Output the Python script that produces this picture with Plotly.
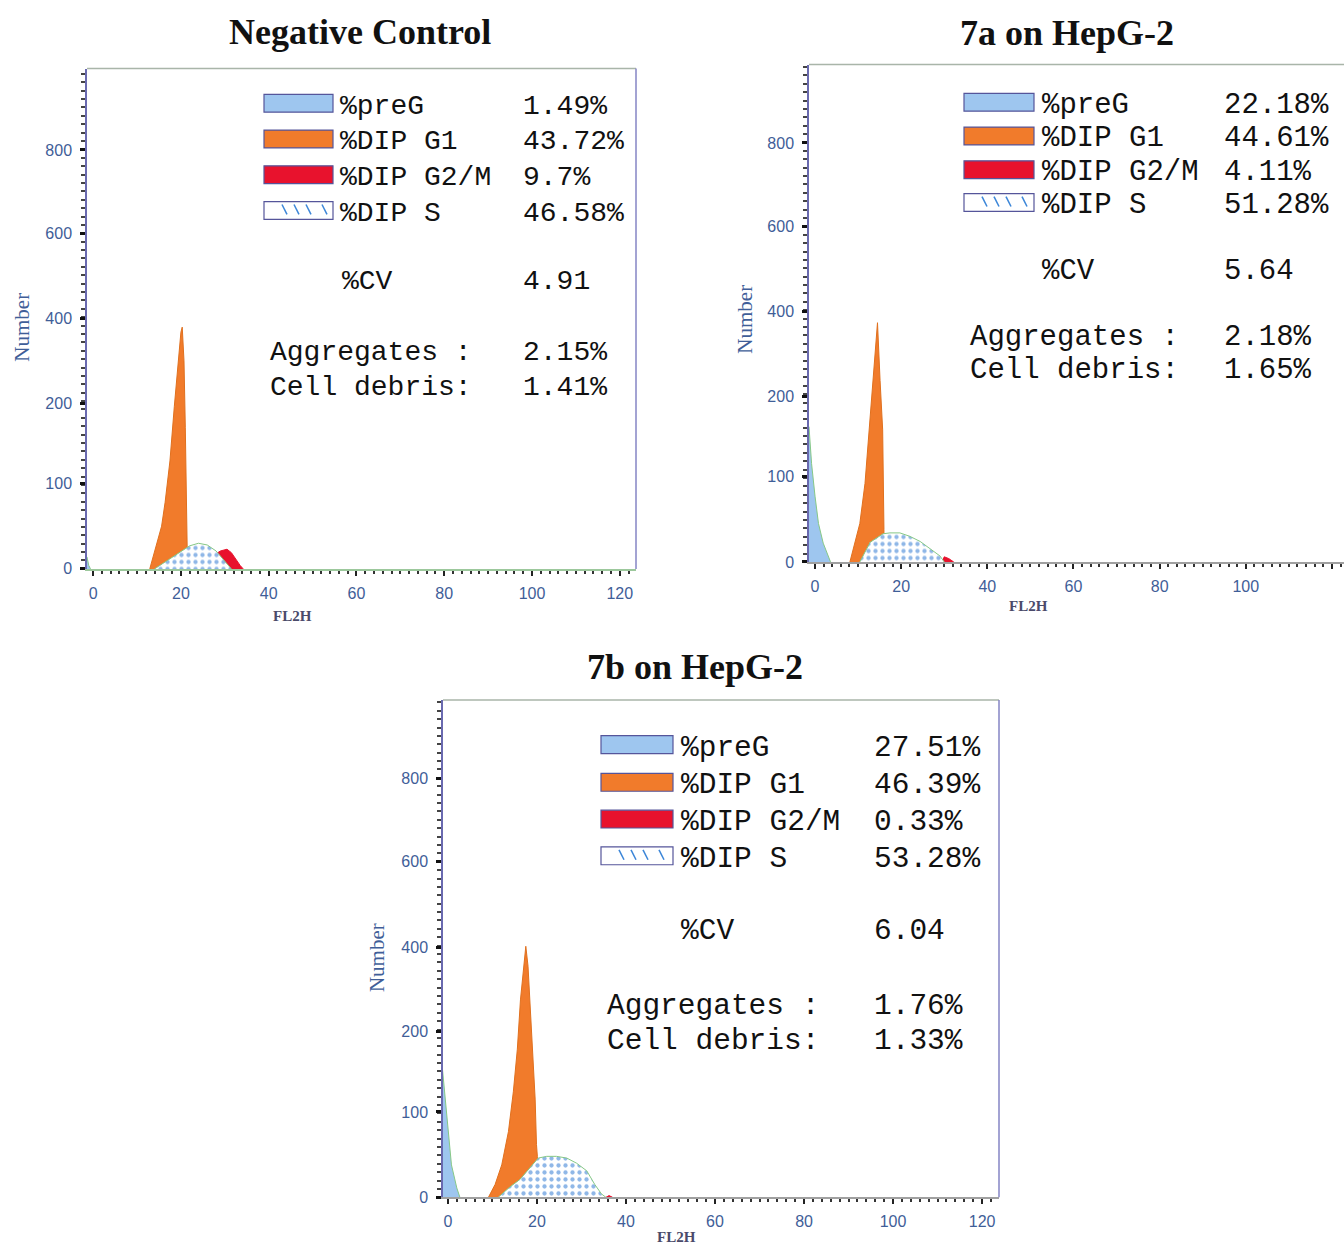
import numpy as np
import plotly.graph_objects as go

W, H = 1344, 1252

# ---------------- data (FL2H channel value, cell count) ----------------
TITLES = ["Negative Control", "7a on HepG-2", "7b on HepG-2"]
LEGEND_NAMES = ["%preG", "%DIP G1", "%DIP G2/M", "%DIP S"]

NC_PREG_X = [-1.4, -1.0, -0.6]
NC_PREG_Y = [14, 4, 0]
NC_G1_X = [12.9, 14.5, 15.6, 16.4, 17.5, 18.5, 19.4, 20.0, 20.3, 20.7, 21.0, 21.3, 21.5, 21.5]
NC_G1_Y = [0, 30, 50, 78, 128, 196, 292, 368, 380, 300, 170, 62, 28, 0]
NC_S_X = [14.0, 16, 18, 20, 22, 24, 26, 28, 30, 31.5]
NC_S_Y = [0, 7, 14, 21, 27, 30, 28, 21, 9, 0]
NC_G2M_X = [27.8, 27.8, 29, 30.5, 31.5, 32.5, 33.5, 34.2]
NC_G2M_Y = [0, 17, 21, 23, 19, 11, 4, 0]
NC_STATS = ["1.49%", "43.72%", "9.7%", "46.58%"]
NC_CV, NC_AGG, NC_DEB = "4.91", "2.15%", "1.41%"

A7_PREG_X = [-1.4, -0.8, 0, 0.8, 1.9, 2.8, 3.6]
A7_PREG_Y = [162, 116, 77, 45, 22, 9, 0]
A7_G1_X = [8.1, 9.3, 10.4, 11.6, 12.4, 13.1, 13.9, 14.3, 14.5, 15.1, 15.7, 16.0, 16.0]
A7_G1_Y = [0, 22, 45, 92, 149, 199, 315, 369, 374, 237, 158, 38, 0]
A7_S_X = [10.4, 12.8, 15.8, 17.4, 19.7, 22.0, 24.4, 26.7, 29.0, 30.0]
A7_S_Y = [0, 23, 33, 34, 34, 30, 24, 15, 7, 0]
A7_G2M_X = [29.5, 30.0, 31.0, 32.2]
A7_G2M_Y = [0, 6, 4, 0]
A7_STATS = ["22.18%", "44.61%", "4.11%", "51.28%"]
A7_CV, A7_AGG, A7_DEB = "5.64", "2.18%", "1.65%"

B7_PREG_X = [-1.3, -0.7, 0.1, 0.8, 2.0, 2.7]
B7_PREG_Y = [158, 125, 77, 38, 11, 0]
B7_G1_X = [9.1, 10.6, 12.1, 13.6, 14.7, 15.6, 16.3, 17.1, 17.5, 18.0, 18.8, 19.6, 19.9, 20.1, 20.1]
B7_G1_Y = [0, 15, 38, 77, 125, 178, 275, 369, 402, 355, 199, 116, 62, 48, 0]
B7_S_X = [11.3, 13.9, 16.2, 18.4, 20.3, 22.2, 24.4, 26.7, 28.9, 31.2, 33.0, 34.5, 35.5]
B7_S_Y = [0, 12, 21, 35, 46, 48, 48, 46, 40, 31, 15, 4, 0]
B7_G2M_X = [35.5, 36.2, 37.0]
B7_G2M_Y = [0, 2, 0]
B7_STATS = ["27.51%", "46.39%", "0.33%", "53.28%"]
B7_CV, B7_AGG, B7_DEB = "6.04", "1.76%", "1.33%"

Y_TICKS = [0, 100, 200, 400, 600, 800]
X_TICKS = [0, 20, 40, 60, 80, 100, 120]

# instrument's non-linear count axis (count -> axis position)
KNOT_COUNTS = [0, 100, 200, 400, 600, 800, 1000]
KNOT_POS = [0, 86, 167, 252, 338, 422, 506]


def ymap(v):
    return np.interp(np.asarray(v, dtype=float), KNOT_COUNTS, KNOT_POS)


# ---------------- colours ----------------
C_PREG = "#9ec6ef"
C_G1 = "#f17b2b"
C_G2M = "#e8122d"
C_S_DOT = "#1f6fd0"
C_GREEN = "#86c886"
TICK_FONT = dict(family="Liberation Sans", size=16, color="#3f5e98")


def PX(x):
    return x / W


def PY(y):
    return 1 - y / H


# panel geometry in pixels: left, right, top, bottom(axis line), x-range
PANELS = [
    dict(l=87, r=636, t=69, b=573, xr=[-1.4, 123.7], right_border=True,
         title_xy=(360, 32), num_xy=(22, 330), fl_xy=(292, 620),
         sw=(264, 333), rows=[104, 140, 176, 212], tx=338, vx=521,
         cv=(340, 281), agg=(268, 352), deb=(268, 387), fs=28,
         preg=(NC_PREG_X, NC_PREG_Y), g1=(NC_G1_X, NC_G1_Y), s=(NC_S_X, NC_S_Y),
         g2m=(NC_G2M_X, NC_G2M_Y), stats=NC_STATS, cvv=NC_CV, aggv=NC_AGG, debv=NC_DEB,
         base="#9cc89c"),
    dict(l=809, r=1344, t=65, b=566, xr=[-1.4, 122.8], right_border=False,
         title_xy=(1067, 33), num_xy=(745, 322), fl_xy=(1028, 610),
         sw=(964, 1034), rows=[103, 137, 171, 204], tx=1040, vx=1222,
         cv=(1040, 270), agg=(968, 337), deb=(968, 370), fs=29,
         preg=(A7_PREG_X, A7_PREG_Y), g1=(A7_G1_X, A7_G1_Y), s=(A7_S_X, A7_S_Y),
         g2m=(A7_G2M_X, A7_G2M_Y), stats=A7_STATS, cvv=A7_CV, aggv=A7_AGG, debv=A7_DEB,
         base="#a0a0a0"),
    dict(l=443, r=999, t=705, b=1206, xr=[-1.1, 123.8], right_border=True,
         title_xy=(695, 672), num_xy=(377, 965), fl_xy=(676, 1246),
         sw=(601, 673), rows=[750, 788, 825, 862], tx=679, vx=872,
         cv=(679, 935), agg=(605, 1010), deb=(605, 1046), fs=29.5,
         preg=(B7_PREG_X, B7_PREG_Y), g1=(B7_G1_X, B7_G1_Y), s=(B7_S_X, B7_S_Y),
         g2m=(B7_G2M_X, B7_G2M_Y), stats=B7_STATS, cvv=B7_CV, aggv=B7_AGG, debv=B7_DEB,
         base="#a0a0a0"),
]

TEXT_DY = 3  # baseline correction for mono text

fig = go.Figure()
layout = dict(width=W, height=H, margin=dict(l=0, r=0, t=0, b=0),
              paper_bgcolor="white", plot_bgcolor="white", showlegend=False)
annotations = []
shapes = []

for i, p in enumerate(PANELS):
    n = "" if i == 0 else str(i + 1)
    xa, ya = "x" + n, "y" + n
    yrange = [0, p["b"] - p["t"]]

    # G1 (orange)
    fig.add_trace(go.Scatter(x=p["g1"][0], y=ymap(p["g1"][1]), xaxis=xa, yaxis=ya,
                             mode="lines", fill="tozeroy", fillcolor=C_G1,
                             line=dict(color="#e0701e", width=1), hoverinfo="skip"))
    # G2/M (red)
    fig.add_trace(go.Scatter(x=p["g2m"][0], y=ymap(p["g2m"][1]), xaxis=xa, yaxis=ya,
                             mode="lines", fill="tozeroy", fillcolor=C_G2M,
                             line=dict(color=C_G2M, width=1), hoverinfo="skip"))
    # S (white with blue dots)
    fig.add_trace(go.Scatter(x=p["s"][0], y=ymap(p["s"][1]), xaxis=xa, yaxis=ya,
                             mode="lines", fill="tozeroy", fillcolor="white",
                             fillpattern=dict(shape=".", fgcolor=C_S_DOT, bgcolor="white",
                                              size=7, solidity=0.3),
                             line=dict(color=C_GREEN, width=1), hoverinfo="skip"))
    # preG (light blue)
    fig.add_trace(go.Scatter(x=p["preg"][0], y=ymap(p["preg"][1]), xaxis=xa, yaxis=ya,
                             mode="lines", fill="tozeroy", fillcolor=C_PREG,
                             line=dict(color=C_GREEN, width=1), hoverinfo="skip"))

    layout["xaxis" + n] = dict(
        domain=[PX(p["l"]), min(1.0, PX(p["r"]))], anchor=ya, range=p["xr"],
        showgrid=False, zeroline=False, showline=True, linecolor=p["base"], linewidth=1.5,
        tickmode="array", tickvals=X_TICKS, ticktext=[str(v) for v in X_TICKS],
        ticks="outside", ticklen=5, tickwidth=2, tickcolor="#222",
        minor=dict(dtick=2, tick0=0, ticks="outside", ticklen=3, tickwidth=1.5,
                   tickcolor="#333"),
        tickfont=TICK_FONT, ticklabelstandoff=4, fixedrange=True)
    layout["yaxis" + n] = dict(
        domain=[PY(p["b"]), PY(p["t"])], anchor=xa, range=yrange,
        showgrid=False, zeroline=False, showline=True, linecolor="#6a6ab0", linewidth=1.5,
        tickmode="array", tickvals=list(ymap(Y_TICKS)), ticktext=[str(v) for v in Y_TICKS],
        ticks="outside", ticklen=5, tickwidth=2.5, tickcolor="#111",
        minor=dict(dtick=8.45, tick0=0, ticks="outside", ticklen=4, tickwidth=1.5,
                   tickcolor="#444"),
        tickfont=TICK_FONT, ticklabelstandoff=5, fixedrange=True)

    # frame: top and right borders
    shapes.append(dict(type="line", xref="paper", yref="paper",
                       x0=PX(p["l"]), x1=min(1.0, PX(p["r"])), y0=PY(p["t"]), y1=PY(p["t"]),
                       line=dict(color="#a9b5a9", width=1.5)))
    if p["right_border"]:
        shapes.append(dict(type="line", xref="paper", yref="paper",
                           x0=PX(p["r"]), x1=PX(p["r"]), y0=PY(p["b"]), y1=PY(p["t"]),
                           line=dict(color="#8484c4", width=1.5)))

    # titles and axis labels
    annotations.append(dict(text="<b>%s</b>" % TITLES[i], x=PX(p["title_xy"][0]),
                            y=PY(p["title_xy"][1]), xref="paper", yref="paper",
                            xanchor="center", yanchor="middle", showarrow=False,
                            font=dict(family="Liberation Serif", size=36, color="#111")))
    annotations.append(dict(text="Number", x=PX(p["num_xy"][0]), y=PY(p["num_xy"][1]),
                            xref="paper", yref="paper", xanchor="center", yanchor="middle",
                            textangle=-90, showarrow=False,
                            font=dict(family="Liberation Serif", size=21, color="#3f5e98")))
    annotations.append(dict(text="<b>FL2H</b>", x=PX(p["fl_xy"][0]), y=PY(p["fl_xy"][1]),
                            xref="paper", yref="paper", xanchor="center", yanchor="middle",
                            showarrow=False,
                            font=dict(family="Liberation Serif", size=15, color="#4a4a6a")))

    # legend swatches
    sw0, sw1 = p["sw"]
    fills = [C_PREG, C_G1, C_G2M, "white"]
    mono = dict(family="Liberation Mono", size=p["fs"], color="#111")
    for k, ry in enumerate(p["rows"]):
        shapes.append(dict(type="rect", xref="paper", yref="paper",
                           x0=PX(sw0), x1=PX(sw1), y0=PY(ry + 9), y1=PY(ry - 9),
                           fillcolor=fills[k], line=dict(color="#55559a", width=1.2)))
        if k == 3:
            for dx in (18, 30, 42, 58):
                shapes.append(dict(type="line", xref="paper", yref="paper",
                                   x0=PX(sw0 + dx), x1=PX(sw0 + dx + 5),
                                   y0=PY(ry - 6), y1=PY(ry + 4),
                                   line=dict(color="#3c86d8", width=1.5)))
        annotations.append(dict(text=LEGEND_NAMES[k], x=PX(p["tx"]), y=PY(ry + TEXT_DY),
                                xref="paper", yref="paper", xanchor="left", yanchor="middle",
                                showarrow=False, font=mono))
        annotations.append(dict(text=p["stats"][k], x=PX(p["vx"]), y=PY(ry + TEXT_DY),
                                xref="paper", yref="paper", xanchor="left", yanchor="middle",
                                showarrow=False, font=mono))
    for label, val, (lx, ly) in [("%CV", p["cvv"], p["cv"]),
                                 ("Aggregates :", p["aggv"], p["agg"]),
                                 ("Cell debris:", p["debv"], p["deb"])]:
        annotations.append(dict(text=label, x=PX(lx), y=PY(ly + TEXT_DY), xref="paper",
                                yref="paper", xanchor="left", yanchor="middle",
                                showarrow=False, font=mono))
        annotations.append(dict(text=val, x=PX(p["vx"]), y=PY(ly + TEXT_DY), xref="paper",
                                yref="paper", xanchor="left", yanchor="middle",
                                showarrow=False, font=mono))

layout["annotations"] = annotations
layout["shapes"] = shapes
fig.update_layout(**layout)
fig.write_html("out.html", config={"displayModeBar": False},
               post_script="document.body.style.margin='0';"
                           "document.body.style.padding='0';"
                           "document.body.style.overflow='hidden';")
